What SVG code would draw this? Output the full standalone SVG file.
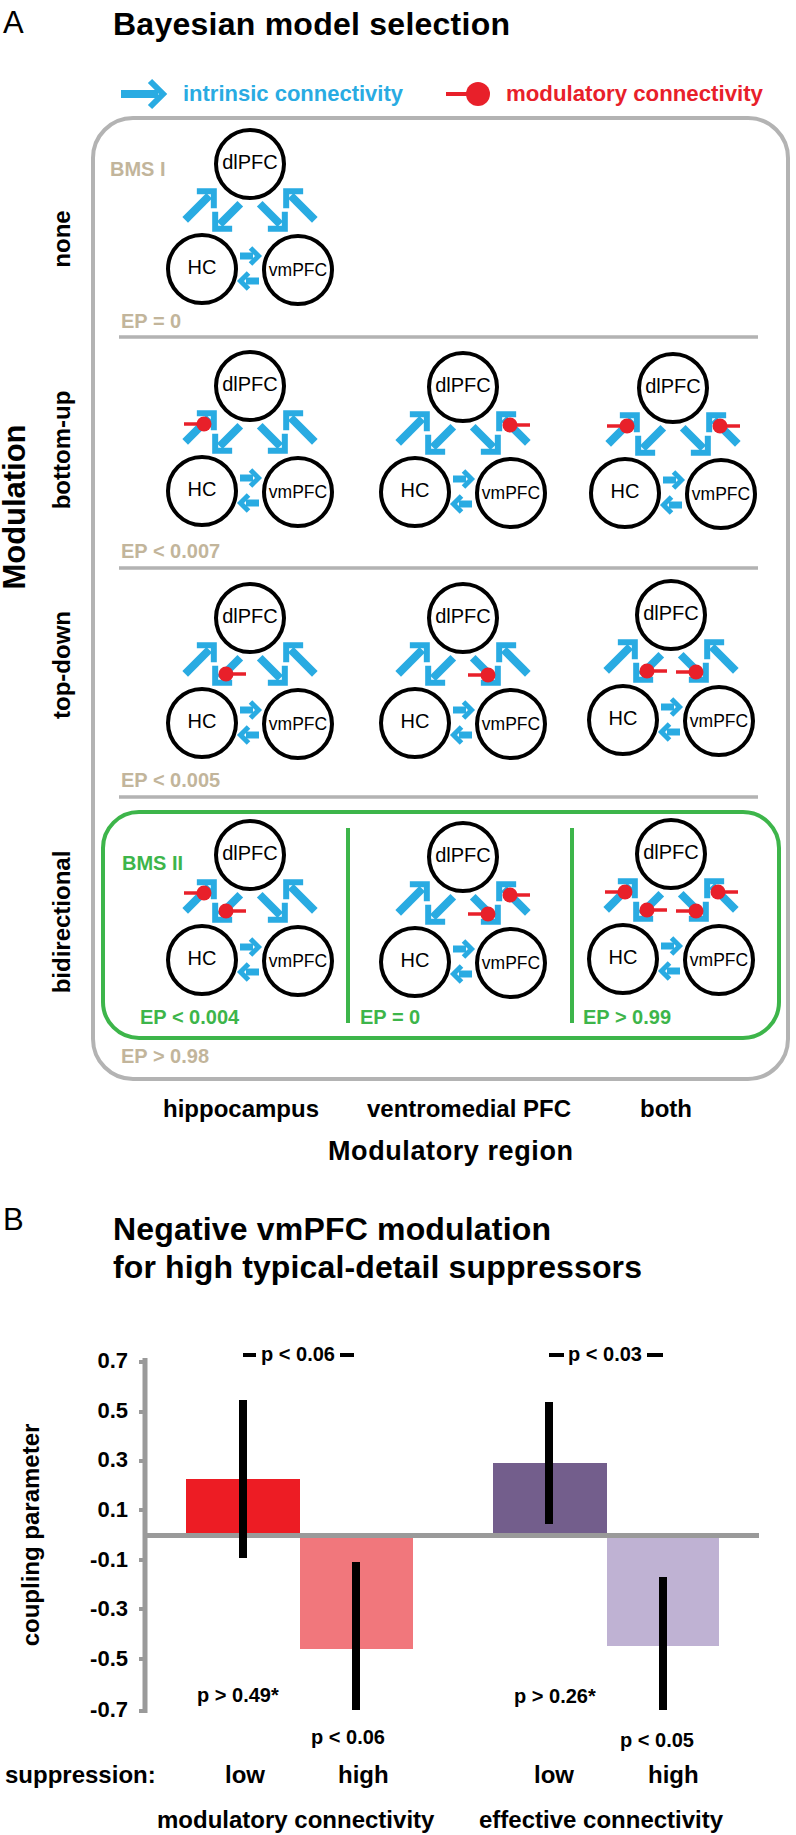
<svg xmlns="http://www.w3.org/2000/svg" width="796" height="1835" viewBox="0 0 796 1835">
<style>
text{font-family:"Liberation Sans",Arial,Helvetica,sans-serif}
.b{font-weight:bold}
.nc{fill:#fff;stroke:#000;stroke-width:4}
.nl{font-size:20px;text-anchor:middle;fill:#000}
.nv{font-size:17.5px;text-anchor:middle;fill:#000}
.tan{fill:#C2B59B;font-weight:bold;font-size:20px}
.grn{fill:#3DB54A;font-weight:bold;font-size:20px}
.row{font-weight:bold;font-size:24px;text-anchor:middle}
.col{font-weight:bold;font-size:24px;text-anchor:middle}
.tick{font-weight:bold;font-size:22px;text-anchor:end}
.pv{font-weight:bold;font-size:20px}
.sep{stroke:#B3B3B3;stroke-width:3.5}
.ax{stroke:#9A9A9A;fill:none}
.eb{stroke:#000;stroke-width:8}
</style>
<defs>
<g id="adO" fill="none" stroke="#29ABE2">
<path d="M-45,0H-11" stroke-width="8"/>
<path d="M-16.5,-12L-4.5,0L-16.5,12" stroke-width="6"/>
</g>
<g id="adI" fill="none" stroke="#29ABE2">
<path d="M-40,0H-11" stroke-width="8"/>
<path d="M-16.5,-12L-4.5,0L-16.5,12" stroke-width="6"/>
</g>
<g id="ah" fill="none" stroke="#29ABE2">
<path d="M-21,0H-8" stroke-width="7"/>
<path d="M-10.5,-8L-2.5,0L-10.5,8" stroke-width="5"/>
</g>
<g id="mL"><path d="M-20,0H0" stroke="#E8202A" stroke-width="3.5"/><circle r="7.5" fill="#E8202A"/></g>
<g id="mR"><path d="M0,0H20" stroke="#E8202A" stroke-width="3.5"/><circle r="7.5" fill="#E8202A"/></g>
<g id="tri">
<use href="#adO" transform="translate(-33,24) rotate(-45)"/>
<use href="#adI" transform="translate(-38,68) rotate(135)"/>
<use href="#adI" transform="translate(38,68) rotate(45)"/>
<use href="#adO" transform="translate(33,24) rotate(-135)"/>
<use href="#ah" transform="translate(11,92)"/>
<use href="#ah" transform="translate(-12,117) rotate(180)"/>
</g>
</defs>

<!-- Panel A header -->
<text x="3" y="33" font-size="31">A</text>
<text x="113" y="35" class="b" font-size="32" textLength="397" lengthAdjust="spacing">Bayesian model selection</text>
<g id="legend">
<path d="M121,94H158" stroke="#29ABE2" stroke-width="8" fill="none"/>
<path d="M150,81L163,94L150,107" stroke="#29ABE2" stroke-width="6" fill="none"/>
<text x="183" y="101" class="b" font-size="21.5" fill="#29ABE2" textLength="220" lengthAdjust="spacingAndGlyphs">intrinsic connectivity</text>
<path d="M446,94H468" stroke="#E8202A" stroke-width="4"/>
<circle cx="478" cy="94" r="12" fill="#E8202A"/>
<text x="506" y="101" class="b" font-size="22" fill="#E8202A" textLength="257" lengthAdjust="spacingAndGlyphs">modulatory connectivity</text>
</g>

<!-- frames -->
<rect x="93" y="118" width="695" height="961" rx="40" fill="none" stroke="#B3B3B3" stroke-width="4"/>
<path class="sep" d="M119,337H758M119,568H758M119,797H758"/>
<rect x="103" y="812" width="676" height="226" rx="36" fill="none" stroke="#3DB54A" stroke-width="4"/>
<path d="M348,828V1023M572,828V1023" stroke="#3DB54A" stroke-width="4"/>

<!-- labels -->
<text class="b" font-size="31" text-anchor="middle" textLength="165" lengthAdjust="spacingAndGlyphs" transform="translate(25,507) rotate(-90)">Modulation</text>
<text class="row" transform="translate(70,239) rotate(-90)">none</text>
<text class="row" transform="translate(70,450) rotate(-90)">bottom-up</text>
<text class="row" transform="translate(70,665) rotate(-90)">top-down</text>
<text class="row" transform="translate(70,922) rotate(-90)">bidirectional</text>
<text x="110" y="176" class="tan" font-size="24">BMS I</text>
<text x="121" y="328" class="tan">EP = 0</text>
<text x="121" y="558" class="tan">EP &lt; 0.007</text>
<text x="121" y="787" class="tan">EP &lt; 0.005</text>
<text x="121" y="1063" class="tan">EP &gt; 0.98</text>
<text x="122" y="870" class="grn" font-size="24">BMS II</text>
<text x="140" y="1024" class="grn">EP &lt; 0.004</text>
<text x="360" y="1024" class="grn">EP = 0</text>
<text x="583" y="1024" class="grn">EP &gt; 0.99</text>
<text x="241" y="1117" class="col">hippocampus</text>
<text x="469" y="1117" class="col">ventromedial PFC</text>
<text x="666" y="1117" class="col">both</text>
<text x="328" y="1160" class="b" font-size="27" textLength="245" lengthAdjust="spacing">Modulatory region</text>

<!-- connectors -->
<g id="connectors">
<use href="#tri" transform="translate(250,164)"/>
<g transform="translate(250,386)"><use href="#tri"/><use href="#mL" x="-46" y="38"/></g>
<g transform="translate(463,387)"><use href="#tri"/><use href="#mR" x="47" y="38"/></g>
<g transform="translate(673,388)"><use href="#tri"/><use href="#mL" x="-46" y="38"/><use href="#mR" x="47" y="38"/></g>
<g transform="translate(250,618)"><use href="#tri"/><use href="#mR" x="-24" y="56"/></g>
<g transform="translate(463,618)"><use href="#tri"/><use href="#mL" x="25" y="57"/></g>
<g transform="translate(671,615)"><use href="#tri"/><use href="#mR" x="-24" y="56"/><use href="#mL" x="25" y="57"/></g>
<g transform="translate(250,855)"><use href="#tri"/><use href="#mL" x="-46" y="38"/><use href="#mR" x="-24" y="56"/></g>
<g transform="translate(463,857)"><use href="#tri"/><use href="#mR" x="47" y="38"/><use href="#mL" x="25" y="57"/></g>
<g transform="translate(671,854)"><use href="#tri"/><use href="#mL" x="-46" y="38"/><use href="#mR" x="47" y="38"/><use href="#mR" x="-24" y="56"/><use href="#mL" x="25" y="57"/></g>
</g>

<!-- nodes -->
<g id="r1c1-dlPFC"><circle class="nc" cx="250" cy="164" r="34"/><text class="nl" x="250" y="169">dlPFC</text></g>
<g id="r1c1-HC"><circle class="nc" cx="202" cy="269" r="34"/><text class="nl" x="202" y="274">HC</text></g>
<g id="r1c1-vmPFC"><circle class="nc" cx="298" cy="270" r="34"/><text class="nv" x="298" y="276">vmPFC</text></g>

<g id="r2c1-dlPFC"><circle class="nc" cx="250" cy="386" r="34"/><text class="nl" x="250" y="391">dlPFC</text></g>
<g id="r2c1-HC"><circle class="nc" cx="202" cy="491" r="34"/><text class="nl" x="202" y="496">HC</text></g>
<g id="r2c1-vmPFC"><circle class="nc" cx="298" cy="492" r="34"/><text class="nv" x="298" y="498">vmPFC</text></g>
<g id="r2c2-dlPFC"><circle class="nc" cx="463" cy="387" r="34"/><text class="nl" x="463" y="392">dlPFC</text></g>
<g id="r2c2-HC"><circle class="nc" cx="415" cy="492" r="34"/><text class="nl" x="415" y="497">HC</text></g>
<g id="r2c2-vmPFC"><circle class="nc" cx="511" cy="493" r="34"/><text class="nv" x="511" y="499">vmPFC</text></g>
<g id="r2c3-dlPFC"><circle class="nc" cx="673" cy="388" r="34"/><text class="nl" x="673" y="393">dlPFC</text></g>
<g id="r2c3-HC"><circle class="nc" cx="625" cy="493" r="34"/><text class="nl" x="625" y="498">HC</text></g>
<g id="r2c3-vmPFC"><circle class="nc" cx="721" cy="494" r="34"/><text class="nv" x="721" y="500">vmPFC</text></g>

<g id="r3c1-dlPFC"><circle class="nc" cx="250" cy="618" r="34"/><text class="nl" x="250" y="623">dlPFC</text></g>
<g id="r3c1-HC"><circle class="nc" cx="202" cy="723" r="34"/><text class="nl" x="202" y="728">HC</text></g>
<g id="r3c1-vmPFC"><circle class="nc" cx="298" cy="724" r="34"/><text class="nv" x="298" y="730">vmPFC</text></g>
<g id="r3c2-dlPFC"><circle class="nc" cx="463" cy="618" r="34"/><text class="nl" x="463" y="623">dlPFC</text></g>
<g id="r3c2-HC"><circle class="nc" cx="415" cy="723" r="34"/><text class="nl" x="415" y="728">HC</text></g>
<g id="r3c2-vmPFC"><circle class="nc" cx="511" cy="724" r="34"/><text class="nv" x="511" y="730">vmPFC</text></g>
<g id="r3c3-dlPFC"><circle class="nc" cx="671" cy="615" r="34"/><text class="nl" x="671" y="620">dlPFC</text></g>
<g id="r3c3-HC"><circle class="nc" cx="623" cy="720" r="34"/><text class="nl" x="623" y="725">HC</text></g>
<g id="r3c3-vmPFC"><circle class="nc" cx="719" cy="721" r="34"/><text class="nv" x="719" y="727">vmPFC</text></g>

<g id="r4c1-dlPFC"><circle class="nc" cx="250" cy="855" r="34"/><text class="nl" x="250" y="860">dlPFC</text></g>
<g id="r4c1-HC"><circle class="nc" cx="202" cy="960" r="34"/><text class="nl" x="202" y="965">HC</text></g>
<g id="r4c1-vmPFC"><circle class="nc" cx="298" cy="961" r="34"/><text class="nv" x="298" y="967">vmPFC</text></g>
<g id="r4c2-dlPFC"><circle class="nc" cx="463" cy="857" r="34"/><text class="nl" x="463" y="862">dlPFC</text></g>
<g id="r4c2-HC"><circle class="nc" cx="415" cy="962" r="34"/><text class="nl" x="415" y="967">HC</text></g>
<g id="r4c2-vmPFC"><circle class="nc" cx="511" cy="963" r="34"/><text class="nv" x="511" y="969">vmPFC</text></g>
<g id="r4c3-dlPFC"><circle class="nc" cx="671" cy="854" r="34"/><text class="nl" x="671" y="859">dlPFC</text></g>
<g id="r4c3-HC"><circle class="nc" cx="623" cy="959" r="34"/><text class="nl" x="623" y="964">HC</text></g>
<g id="r4c3-vmPFC"><circle class="nc" cx="719" cy="960" r="34"/><text class="nv" x="719" y="966">vmPFC</text></g>

<!-- Panel B -->
<text x="3" y="1230" font-size="31">B</text>
<text x="113" y="1240" class="b" font-size="32" textLength="438" lengthAdjust="spacing">Negative vmPFC modulation</text>
<text x="113" y="1278" class="b" font-size="32" textLength="529" lengthAdjust="spacing">for high typical-detail suppressors</text>

<g id="chart">
<rect x="186" y="1479" width="114" height="55" fill="#ED1C24"/>
<rect x="300" y="1537" width="113" height="112" fill="#F1777C"/>
<rect x="493" y="1463" width="114" height="71" fill="#735E8C"/>
<rect x="607" y="1537" width="112" height="109" fill="#BFB2D3"/>
<path class="ax" stroke-width="5" d="M145,1358V1713M145,1535.5H759"/>
<path class="ax" stroke-width="4" d="M139,1362H145M139,1412H145M139,1461H145M139,1510H145M139,1560H145M139,1609H145M139,1659H145M139,1711H145"/>
<path class="eb" d="M243,1400V1558M356,1562V1710M549,1402V1524M663,1577V1710"/>
<path stroke="#000" stroke-width="4" d="M243,1355H256M340,1355H354M549,1355H564M647,1355H663"/>
</g>
<text class="tick" x="128" y="1368">0.7</text>
<text class="tick" x="128" y="1418">0.5</text>
<text class="tick" x="128" y="1467">0.3</text>
<text class="tick" x="128" y="1517">0.1</text>
<text class="tick" x="128" y="1567">-0.1</text>
<text class="tick" x="128" y="1616">-0.3</text>
<text class="tick" x="128" y="1666">-0.5</text>
<text class="tick" x="128" y="1717">-0.7</text>
<text class="b" font-size="24" text-anchor="middle" transform="translate(39,1535) rotate(-90)">coupling parameter</text>
<text class="pv" x="298" y="1361" text-anchor="middle">p &lt; 0.06</text>
<text class="pv" x="605" y="1361" text-anchor="middle">p &lt; 0.03</text>
<text class="pv" x="197" y="1702">p &gt; 0.49*</text>
<text class="pv" x="311" y="1744">p &lt; 0.06</text>
<text class="pv" x="514" y="1703">p &gt; 0.26*</text>
<text class="pv" x="620" y="1747">p &lt; 0.05</text>
<text class="b" font-size="24" x="5" y="1783">suppression:</text>
<text class="b" font-size="24" x="225" y="1783">low</text>
<text class="b" font-size="24" x="338" y="1783">high</text>
<text class="b" font-size="24" x="534" y="1783">low</text>
<text class="b" font-size="24" x="648" y="1783">high</text>
<text class="b" font-size="24" x="157" y="1828">modulatory connectivity</text>
<text class="b" font-size="24" x="479" y="1828">effective connectivity</text>
</svg>
